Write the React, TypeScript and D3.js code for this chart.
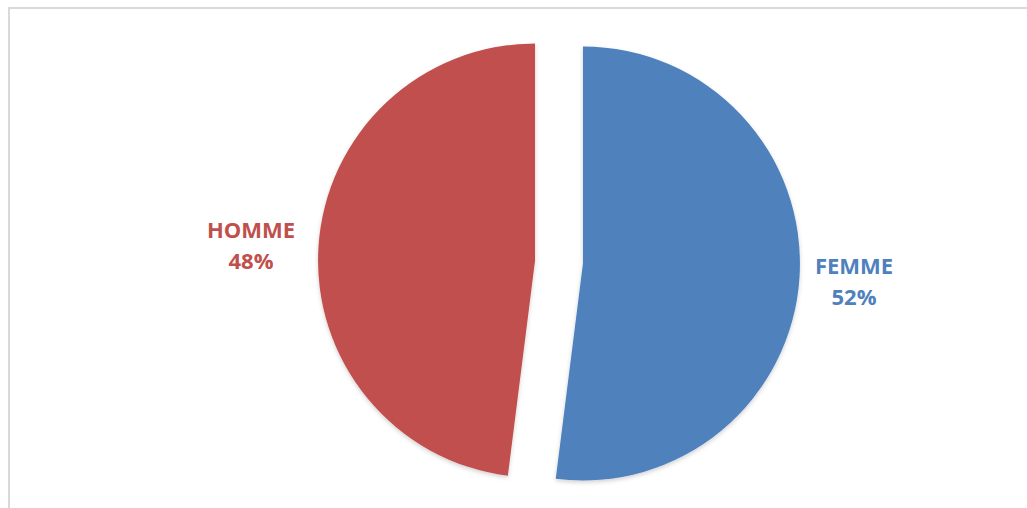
import React from "react";
import * as d3 from "d3";

const categories = ["FEMME", "HOMME"];
const values = [52, 48];
const colors = ["#4F81BD", "#C0504D"];

export default function App() {
  const W = 1027;
  const H = 508;
  const cx = 559;
  const cy = 262;
  const r = 217;
  const explode = 24;
  const pie = d3.pie<number>().sort(null).startAngle(0).endAngle(2 * Math.PI);
  const arcs = pie(values);
  const arc = d3.arc<d3.PieArcDatum<number>>().innerRadius(0).outerRadius(r);
  const total = d3.sum(values);
  const labelPos = [
    { x: 854, y: 274 },
    { x: 251, y: 238 },
  ];
  return (
    <svg
      width={W}
      height={H}
      style={{ position: "absolute", left: 0, top: 0, background: "#fff" }}
    >
      <defs>
        <filter id="sh" x="-20%" y="-20%" width="140%" height="140%">
          <feDropShadow dx="0" dy="2" stdDeviation="2" floodColor="#000" floodOpacity="0.18" />
        </filter>
      </defs>
      <rect x={9} y={8} width={1030} height={520} fill="#fff" stroke="#d9d9d9" strokeWidth={2} />
      {arcs.map((a, i) => {
        const mid = (a.startAngle + a.endAngle) / 2;
        const dx = Math.sin(mid) * explode;
        const dy = -Math.cos(mid) * explode;
        return (
          <path
            key={categories[i]}
            d={arc(a) || ""}
            transform={`translate(${cx + dx},${cy + dy})`}
            fill={colors[i]}
            filter="url(#sh)"
          />
        );
      })}
      {arcs.map((a, i) => (
        <text
          key={"l" + i}
          x={labelPos[i].x}
          y={labelPos[i].y}
          textAnchor="middle"
          fill={colors[i]}
          fontFamily="'Open Sans', 'Liberation Sans', sans-serif"
          fontWeight="bold"
          fontSize={22}
        >
          <tspan x={labelPos[i].x} dy={0}>{categories[i]}</tspan>
          <tspan x={labelPos[i].x} dy={31}>{`${Math.round((values[i] / total) * 100)}%`}</tspan>
        </text>
      ))}
    </svg>
  );
}
